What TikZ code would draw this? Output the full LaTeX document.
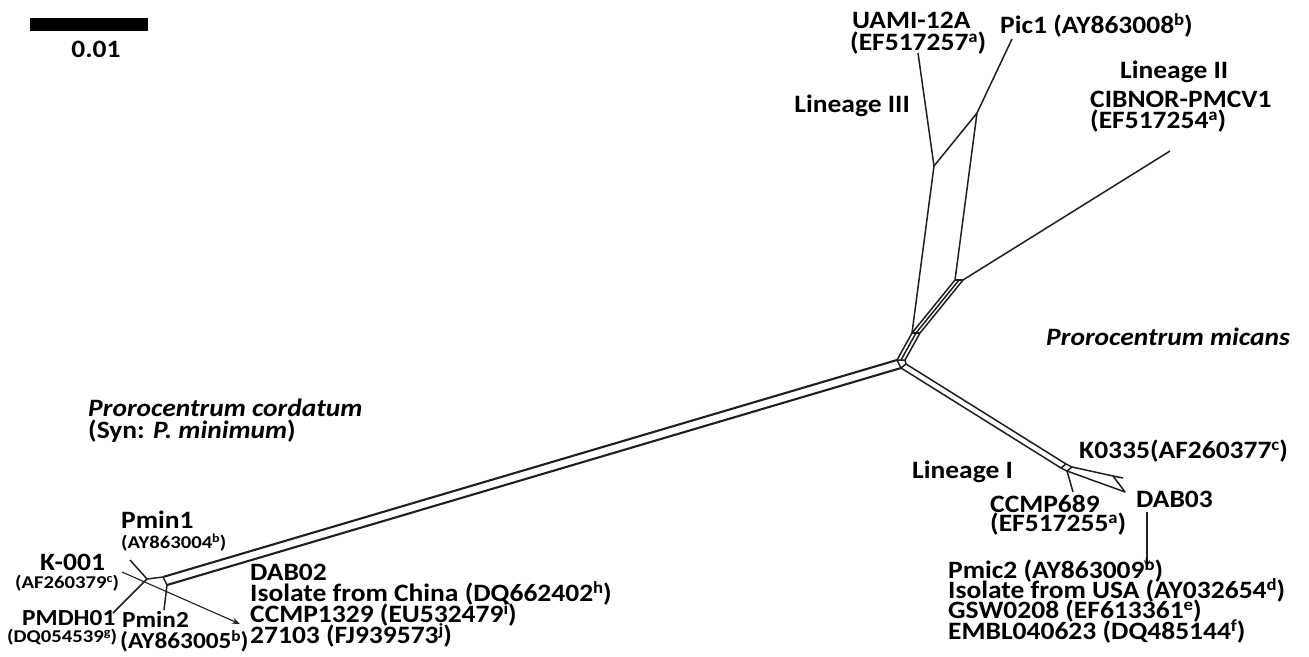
\documentclass[tikz,border=0pt]{standalone}
\usepackage{fontspec}
\setmainfont{Carlito}[FakeStretch=1.1]
\newfontfamily\widefont{Carlito}[FakeStretch=1.15]
\usetikzlibrary{arrows.meta}
\newcommand{\sps}[1]{\raisebox{0.3em}{\scalebox{0.68}{#1}}}
\tikzset{
  net/.style={line width=1.5pt, draw=black!88, line join=round},
  band/.style={line width=2.1pt, draw=black!88, line join=round},
  pointer/.style={line width=1.1pt, draw=black!88, -{Stealth[length=8pt,width=6pt]}},
  big/.style={anchor=base west, inner sep=0pt, text=black, font=\bfseries\fontsize{25}{25}\selectfont},
  mid/.style={anchor=base west, inner sep=0pt, text=black, font=\bfseries\fontsize{23}{23}\selectfont},
  small/.style={anchor=base west, inner sep=0pt, text=black, font=\widefont\bfseries\fontsize{18}{18}\selectfont},
  species/.style={anchor=base west, inner sep=0pt, text=black, font=\bfseries\itshape\fontsize{25}{25}\selectfont},
}
\begin{document}
\begin{tikzpicture}[x=1pt,y=-1pt]
\useasboundingbox (0,0) rectangle (1309,656);
\fill[white] (0,0) rectangle (1309,656);

% scale bar
\fill[black] (30,18) rectangle (148,31);
\node[big, anchor=base] (scale) at (96,57) {0.01};

% ---- network nodes ----
% P. cordatum cluster
\coordinate (J)  at (147,579);
\coordinate (A1) at (163,577);
\coordinate (A2) at (167,585);
\coordinate (pmin1) at (130,560);
\coordinate (pmdh) at (113,613);
\coordinate (pmin2) at (164,610);
\coordinate (k001) at (122,572);
\coordinate (dab02) at (240,624);
% central box
\coordinate (c1) at (897,360);
\coordinate (cm) at (901,360);
\coordinate (c2) at (905,360);
\coordinate (c3) at (906,364);
\coordinate (c4) at (901,368);
% upper band (lineages II and III)
\coordinate (p1) at (912,333);
\coordinate (pm) at (916,333);
\coordinate (p2) at (920,333);
\coordinate (q1) at (955,280);
\coordinate (qm) at (959,280);
\coordinate (q2) at (963,280);
\coordinate (uA) at (934,166);
\coordinate (uB) at (977,113);
\coordinate (uami) at (918,53);
\coordinate (pic1) at (1012,39);
\coordinate (cib) at (1170,151);
% lineage I
\coordinate (b1) at (1066,464);
\coordinate (b2) at (1061,468);
\coordinate (b3) at (1072,467);
\coordinate (b4) at (1067,471);
\coordinate (ccmp) at (1073,492);
\coordinate (k1) at (1113,476);
\coordinate (k0335) at (1123,478);
\coordinate (dab03) at (1125,492);
\coordinate (d3a) at (1147,512);
\coordinate (d3b) at (1147,568);

% ---- edges ----
% cordatum
\draw[net] (pmin1) -- (J) -- (pmdh);
\draw[net] (J) -- (A1) -- (A2) -- (pmin2);
\draw[pointer] (k001) -- (dab02);
\draw[band] (A1) -- (c1);
\draw[band] (A2) -- (c4);
% centre
\draw[net] (c1) -- (c2) -- (c3) -- (c4) -- cycle;
\draw[net] (c1) -- (p1);
\draw[net] (cm) -- (pm);
\draw[net] (c2) -- (p2);
\draw[net] (p1) -- (p2);
\draw[net] (p1) -- (q1);
\draw[net] (pm) -- (qm);
\draw[net] (p2) -- (q2);
\draw[net] (q1) -- (q2);
\draw[net] (p1) -- (uA) -- (uB) -- (q1);
\draw[net] (uA) -- (uami);
\draw[net] (uB) -- (pic1);
\draw[net] (q2) -- (cib);
% lineage I
\draw[net] (c3) -- (b1);
\draw[net] (c4) -- (b2);
\draw[net] (b1) -- (b3) -- (b4) -- (b2) -- cycle;
\draw[net] (b4) -- (ccmp);
\draw[net] (b3) -- (k1) -- (k0335);
\draw[net] (k1) -- (dab03) -- (b4);
\draw[pointer] (d3a) -- (d3b);

% ---- labels ----
\node[big] (tUami) at (852,28) {UAMI-12A};
\node[big] (tUamiAcc) at (850,50) {(EF517257\sps{a})};
\node[big] (tPic) at (1000,33) {Pic1 (AY863008\sps{b})};
\node[big] (tLin2) at (1120,78) {Lineage II};
\node[big] (tCib) at (1090,107) {CIBNOR-PMCV1};
\node[big] (tCibAcc) at (1090,128) {(EF517254\sps{a})};
\node[big, anchor=base east] (tLin3) at (910,112) {Lineage III};
\node[species] (tMicans) at (1046,345) {Prorocentrum micans};
\node[species] (tCord) at (88,416) {Prorocentrum cordatum};
\node[big] (tSyn) at (88,438) {(Syn: \textit{P. minimum})};
\node[big] (tLin1) at (912,478) {Lineage I};
\node[big] (tK0335) at (1079,458) {K0335(AF260377\sps{c})};
\node[big] (tCcmp) at (990,512) {CCMP689};
\node[big] (tCcmpAcc) at (990,531) {(EF517255\sps{a})};
\node[big] (tDab3) at (1136,507) {DAB03};
\node[big] (tPmic2) at (948,578) {Pmic2 (AY863009\sps{b})};
\node[big] (tUsa) at (948,598) {Isolate from USA (AY032654\sps{d})};
\node[big] (tGsw) at (948,618) {GSW0208 (EF613361\sps{e})};
\node[big] (tEmbl) at (948,639) {EMBL040623 (DQ485144\sps{f})};
\node[big] (tPmin1) at (121,528) {Pmin1};
\node[small] (tPmin1Acc) at (121,548) {(AY863004\sps{b})};
\node[big] (tK001) at (40,570) {K-001};
\node[small] (tK001Acc) at (15,588) {(AF260379\sps{c})};
\node[mid] (tPmdh) at (22,625) {PMDH01};
\node[small] (tPmdhAcc) at (7,642) {(DQ054539\sps{g})};
\node[mid] (tPmin2) at (122,627) {Pmin2};
\node[mid] (tPmin2Acc) at (120,648) {(AY863005\sps{b})};
\node[big] (tDab2) at (250,580) {DAB02};
\node[big] (tChina) at (250,601) {Isolate from China (DQ662402\sps{h})};
\node[big] (tCcmp1329) at (250,622) {CCMP1329 (EU532479\sps{i})};
\node[big] (t27103) at (250,643) {27103 (FJ939573\sps{j})};
\end{tikzpicture}
\end{document}
